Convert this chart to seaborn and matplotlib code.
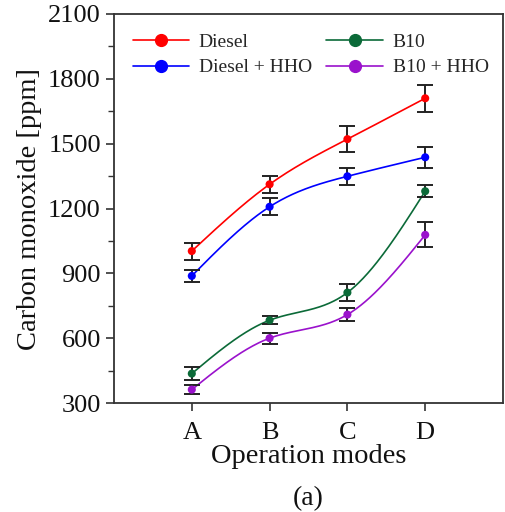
import numpy as np
import pandas as pd
import matplotlib
matplotlib.use("Agg")
import matplotlib.pyplot as plt
from matplotlib.lines import Line2D
from matplotlib.ticker import MultipleLocator
import seaborn as sns

modes = ["A", "B", "C", "D"]
series_names = ["Diesel", "Diesel + HHO", "B10", "B10 + HHO"]
diesel = [1003, 1312, 1521, 1710]
diesel_hho = [888, 1208, 1349, 1437]
b10 = [436, 683, 811, 1280]
b10_hho = [362, 600, 709, 1078]
err_diesel = [39, 39, 60, 63]
err_diesel_hho = [29, 39, 40, 48]
err_b10 = [30, 18, 39, 29]
err_b10_hho = [19, 25, 30, 58]
colors = ["#ff0000", "#0000ff", "#0b6a38", "#9a12cc"]

values = [diesel, diesel_hho, b10, b10_hho]
errors = [err_diesel, err_diesel_hho, err_b10, err_b10_hho]

sns.set_theme(style="ticks")
plt.rcParams["font.family"] = ["Liberation Serif", "DejaVu Serif"]
plt.rcParams["mathtext.fontset"] = "stix"


def natural_spline(x, y, xs):
    x = np.asarray(x, float); y = np.asarray(y, float)
    n = len(x)
    h = np.diff(x)
    A = np.zeros((n, n)); b = np.zeros(n)
    A[0, 0] = 1; A[-1, -1] = 1
    for i in range(1, n - 1):
        A[i, i - 1] = h[i - 1]
        A[i, i] = 2 * (h[i - 1] + h[i])
        A[i, i + 1] = h[i]
        b[i] = 3 * ((y[i + 1] - y[i]) / h[i] - (y[i] - y[i - 1]) / h[i - 1])
    c = np.linalg.solve(A, b)
    out = np.empty_like(xs)
    for k, xv in enumerate(xs):
        i = min(np.searchsorted(x, xv, side="right") - 1, n - 2)
        i = max(i, 0)
        dx = xv - x[i]
        bi = (y[i + 1] - y[i]) / h[i] - h[i] * (2 * c[i] + c[i + 1]) / 3
        di = (c[i + 1] - c[i]) / (3 * h[i])
        out[k] = y[i] + bi * dx + c[i] * dx ** 2 + di * dx ** 3
    return out


xpos = np.arange(len(modes))
xs = np.linspace(0, len(modes) - 1, 200)
rows = []
for name, vals in zip(series_names, values):
    ys = natural_spline(xpos, vals, xs)
    for a, b_ in zip(xs, ys):
        rows.append({"x": a, "y": b_, "series": name})
curve_df = pd.DataFrame(rows)
pts_df = pd.DataFrame({
    "x": np.tile(xpos, len(series_names)),
    "y": np.concatenate(values),
    "series": np.repeat(series_names, len(modes)),
})
palette = dict(zip(series_names, colors))

fig = plt.figure(figsize=(5.05, 5.12), dpi=100)
ax = fig.add_axes([114 / 505, 109 / 512, 389 / 505, 389 / 512])

sns.lineplot(data=curve_df, x="x", y="y", hue="series", palette=palette,
             linewidth=1.2, legend=False, ax=ax, zorder=2)
for name, vals, errs in zip(series_names, values, errors):
    ax.errorbar(xpos, vals, yerr=errs, fmt="none", ecolor="#222222",
                elinewidth=1.4, capsize=6, capthick=1.4, zorder=3)
sns.scatterplot(data=pts_df, x="x", y="y", hue="series", palette=palette,
                s=34, edgecolor="none", legend=False, ax=ax, zorder=4)

ax.set_xlim(-1, 4)
ax.set_ylim(300, 2100)
ax.set_xticks(xpos)
ax.set_xticklabels(modes)
ax.yaxis.set_major_locator(MultipleLocator(300))
ax.yaxis.set_minor_locator(MultipleLocator(150))
ax.tick_params(axis="both", which="major", labelsize=19, length=6, width=1.2,
               color="#333333", labelcolor="#111111", direction="out")
ax.tick_params(axis="x", which="major", pad=8)
ax.tick_params(axis="y", which="minor", length=4, width=1.0, color="#333333")
for sp in ax.spines.values():
    sp.set_color("#333333")
    sp.set_linewidth(1.3)

ax.set_xlabel("Operation modes", fontsize=20.5, labelpad=0, color="#111111")
ax.set_ylabel("Carbon monoxide [ppm]", fontsize=20.5, labelpad=4, color="#111111")

handles = [Line2D([0], [0], color=c, lw=1.2, marker="o", markersize=8.5)
           for c in colors]
ax.legend(handles, series_names, ncol=2,
          loc="upper left", frameon=False, fontsize=14, handlelength=2.9,
          handletextpad=0.5, columnspacing=0.75, labelspacing=0.4,
          bbox_to_anchor=(0.013, 0.985), borderaxespad=0.3)

fig.text(308.5 / 505, 13 / 512, "(a)", ha="center", va="center", fontsize=20,
         color="#111111")

fig.savefig("out.png", dpi=100)
